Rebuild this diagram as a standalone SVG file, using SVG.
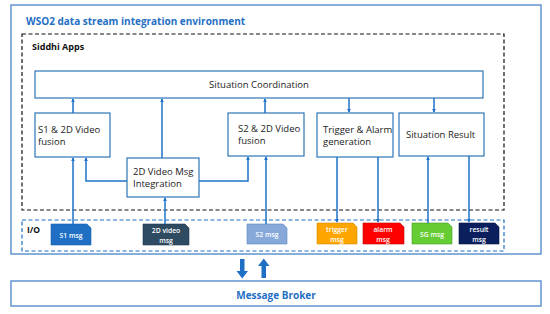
<svg xmlns="http://www.w3.org/2000/svg" width="550" height="314" viewBox="0 0 550 314">
<style>
.box{fill:#fff;stroke:#2E75B6;stroke-width:1.2}
.outer{fill:#fff;stroke:#4A86C8;stroke-width:1.3}
.t{font-family:"Open Sans","Liberation Sans",sans-serif;font-size:9.5px;fill:#222}
.tb{font-family:"Open Sans","Liberation Sans",sans-serif;font-weight:bold;fill:#1F6FC5}
.m{font-family:"Open Sans","Liberation Sans",sans-serif;font-size:6.8px;font-weight:600;fill:#fff;text-anchor:middle}
.c{fill:none;stroke:#1F73C8;stroke-width:1.5;marker-end:url(#ah)}
</style>
<defs>
<marker id="ah" viewBox="0 0 6 6" refX="5" refY="3" markerWidth="4" markerHeight="4" orient="auto" markerUnits="userSpaceOnUse">
<path d="M0,0 L6,3 L0,6 z" fill="#1F73C8"/>
</marker>
</defs>
<rect width="550" height="314" fill="#fff"/>
<g id="env">
<rect class="outer" x="11" y="5" width="530" height="249"/>
<text class="tb" x="26" y="25" font-size="10">WSO2 data stream integration environment</text>
</g>
<g id="siddhi">
<rect x="22" y="34" width="482" height="176" fill="none" stroke="#111" stroke-width="1.2" stroke-dasharray="4,2.5"/>
<text x="32" y="50" font-family="Open Sans,Liberation Sans,sans-serif" font-weight="bold" font-size="9" fill="#111">Siddhi Apps</text>
</g>
<g id="io">
<rect x="22" y="220" width="482" height="31" fill="none" stroke="#1F6FC5" stroke-width="1.2" stroke-dasharray="4,2.5"/>
<text x="27" y="233" font-family="Open Sans,Liberation Sans,sans-serif" font-weight="bold" font-size="8.5" fill="#111">I/O</text>
</g>
<g id="coord">
<rect class="box" x="35" y="71" width="448" height="27"/>
<text class="t" x="259" y="88" text-anchor="middle">Situation Coordination</text>
</g>
<g id="s1fusion">
<rect class="box" x="35" y="113" width="75" height="44"/>
<text class="t" x="38" y="133">S1 &amp; 2D Video</text>
<text class="t" x="38" y="145">fusion</text>
</g>
<g id="s2fusion">
<rect class="box" x="228" y="113" width="76" height="43"/>
<text class="t" x="238" y="132">S2 &amp; 2D Video</text>
<text class="t" x="238" y="144">fusion</text>
</g>
<g id="integration">
<rect class="box" x="127" y="158" width="72" height="39"/>
<text class="t" x="133" y="175">2D Video Msg</text>
<text class="t" x="133" y="187">Integration</text>
</g>
<g id="trigger">
<rect class="box" x="317" y="113" width="76" height="44"/>
<text class="t" x="323" y="133">Trigger &amp; Alarm</text>
<text class="t" x="323" y="145">generation</text>
</g>
<g id="result">
<rect class="box" x="399" y="113" width="85" height="43"/>
<text class="t" x="406" y="138">Situation Result</text>
</g>
<g id="msg-s1">
<path d="M51,224 H87 L91,228 V245 H51 Z" fill="#1F6FC5" stroke="#1A5FA8" stroke-width="0.6"/>
<text class="m" x="71" y="238">S1 msg</text>
</g>
<g id="msg-2d">
<path d="M143,224 H185 L189,228 V245 H143 Z" fill="#2E4B62" stroke="#223a4d" stroke-width="0.6"/>
<text class="m" x="166" y="233">2D video</text>
<text class="m" x="166" y="243">msg</text>
</g>
<g id="msg-s2">
<path d="M247,224 H283 L287,228 V244 H247 Z" fill="#86A9DA" stroke="#5a86c4" stroke-width="0.6"/>
<text class="m" x="267" y="237">S2 msg</text>
</g>
<g id="msg-trigger">
<path d="M317,223 H353 L357,227 V244 H317 Z" fill="#FFA500" stroke="#d08a00" stroke-width="0.6"/>
<text class="m" x="337" y="232">trigger</text>
<text class="m" x="337" y="242">msg</text>
</g>
<g id="msg-alarm">
<path d="M363,223 H400 L404,227 V244 H363 Z" fill="#FF0000" stroke="#c00000" stroke-width="0.6"/>
<text class="m" x="383" y="232">alarm</text>
<text class="m" x="383" y="242">msg</text>
</g>
<g id="msg-sg">
<path d="M412,223 H448 L452,227 V244 H412 Z" fill="#66CC33" stroke="#4a9a25" stroke-width="0.6"/>
<text class="m" x="432" y="237">SG msg</text>
</g>
<g id="msg-result">
<path d="M459,223 H495 L499,227 V244 H459 Z" fill="#0B1F5E" stroke="#06133c" stroke-width="0.6"/>
<text class="m" x="479" y="232">result</text>
<text class="m" x="479" y="242">msg</text>
</g>
<g id="broker">
<rect class="outer" x="11" y="281" width="530" height="25"/>
<text class="tb" x="276" y="299" font-size="10" text-anchor="middle">Message Broker</text>
</g>
<g id="connectors">
<path class="c" d="M73,113 V99"/>
<path class="c" d="M162,158 V99"/>
<path class="c" d="M265,113 V99"/>
<path class="c" d="M349,98 V112"/>
<path class="c" d="M434,98 V112"/>
<path class="c" d="M73,224 V158"/>
<path class="c" d="M127,181 H86 V158"/>
<path class="c" d="M199,181 H248 V157"/>
<path class="c" d="M165,224 V198"/>
<path class="c" d="M266,224 V157"/>
<path class="c" d="M337,157 V222"/>
<path class="c" d="M378,157 V222"/>
<path class="c" d="M428,223 V157"/>
<path class="c" d="M469,156 V222"/>
<path d="M240,259 H244.5 V271 H248 L242.25,278.5 L236.5,271 H240 Z" fill="#1F6FC5"/>
<path d="M261.5,278 H266 V266 H269.5 L263.75,258.5 L258,266 H261.5 Z" fill="#1F6FC5"/>
</g>
</svg>
